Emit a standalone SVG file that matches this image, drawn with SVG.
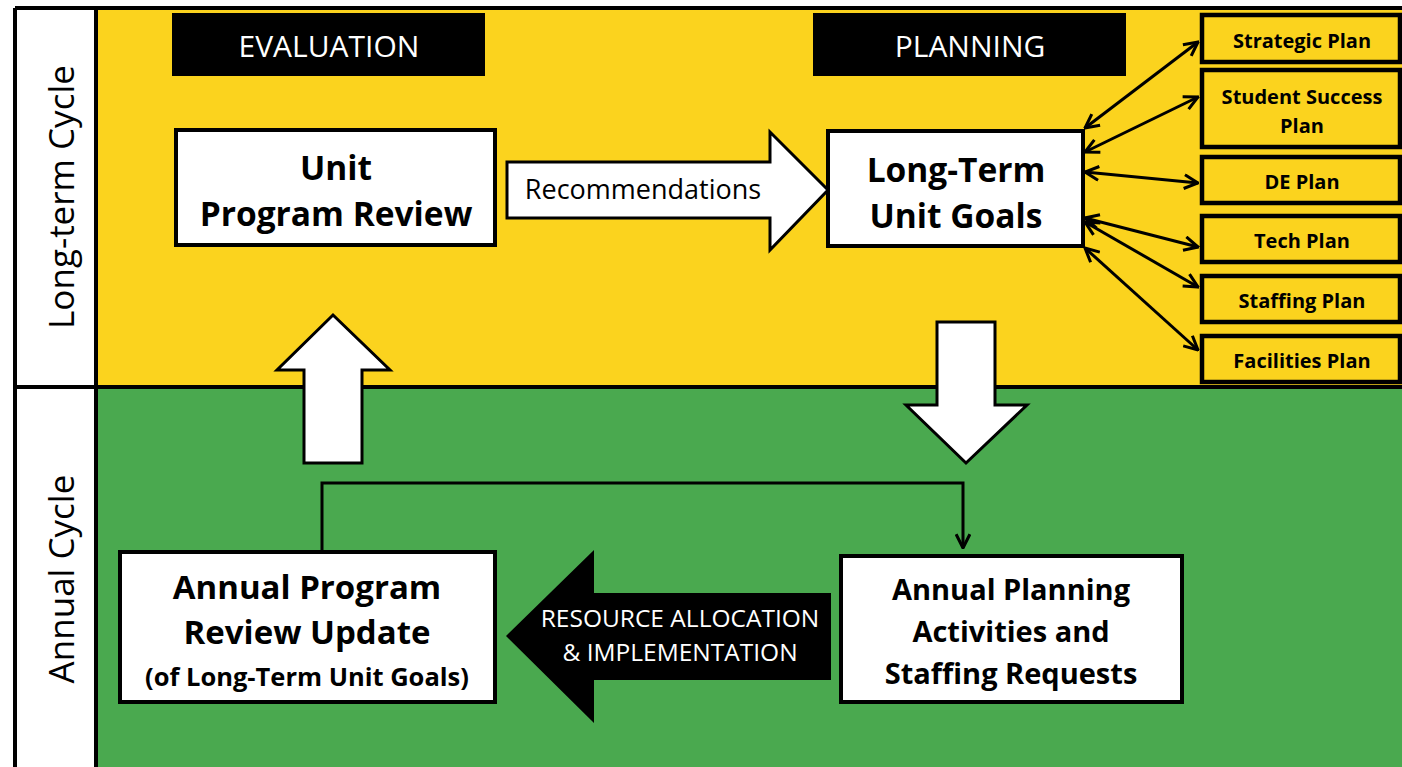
<svg xmlns="http://www.w3.org/2000/svg" width="1402" height="767" viewBox="0 0 1402 767">
<defs>
<style>
.box{fill:#fff;stroke:#000;stroke-width:4}
.plan{fill:#FBD31E;stroke:#000;stroke-width:4.5}
.bt{font-family:"Open Sans","Liberation Sans",sans-serif;font-weight:bold;fill:#000;text-anchor:middle}
.nt{font-family:"Open Sans","Liberation Sans",sans-serif;text-anchor:middle}
.line{stroke:#000;stroke-width:3;fill:none}
.big{stroke:#000;stroke-width:3;fill:#fff;stroke-linejoin:miter}
</style>
<marker id="open" viewBox="0 0 12 12" refX="11" refY="6" markerWidth="5.5" markerHeight="5.5" orient="auto-start-reverse" markerUnits="strokeWidth">
<path d="M1,1 L11,6 L1,11" fill="none" stroke="#000" stroke-width="2.2"/>
</marker>
</defs>
<rect x="0" y="0" width="1402" height="767" fill="#fff"/>
<g id="lanes">
<rect x="96" y="8" width="1306" height="379" fill="#FBD31E"/>
<rect x="96" y="387" width="1306" height="380" fill="#4AA94F"/>
<rect x="15" y="8" width="81" height="759" fill="#fff"/>
<path d="M15,8 H1402 M15,8 V767 M96,8 V767 M13,387 H1402" stroke="#000" stroke-width="4" fill="none"/>
<text class="nt" font-size="35" fill="#000" transform="translate(74,197) rotate(-90)">Long-term Cycle</text>
<text class="nt" font-size="35" fill="#000" transform="translate(74,579) rotate(-90)">Annual Cycle</text>
</g>
<g id="evaluation">
<rect x="172" y="13" width="313" height="63" fill="#000"/>
<text class="nt" x="329" y="57" font-size="30" fill="#fff">EVALUATION</text>
</g>
<g id="planning">
<rect x="813" y="13" width="313" height="63" fill="#000"/>
<text class="nt" x="970" y="57" font-size="30" fill="#fff">PLANNING</text>
</g>
<g id="unit-program-review">
<rect class="box" x="176" y="130" width="319" height="115"/>
<text class="bt" x="336" y="180" font-size="33.5">Unit</text>
<text class="bt" x="336" y="226" font-size="33.5">Program Review</text>
</g>
<g id="long-term-unit-goals">
<rect class="box" x="828" y="131" width="255" height="115"/>
<text class="bt" x="956" y="182" font-size="33.5">Long-Term</text>
<text class="bt" x="956" y="228" font-size="33.5">Unit Goals</text>
</g>
<g id="strategic-plan"><rect class="plan" x="1202" y="15" width="198" height="47"/><text class="bt" x="1302" y="48" font-size="20">Strategic Plan</text></g>
<g id="student-success-plan"><rect class="plan" x="1202" y="70" width="198" height="77"/><text class="bt" x="1302" y="104" font-size="20">Student Success</text><text class="bt" x="1302" y="133" font-size="20">Plan</text></g>
<g id="de-plan"><rect class="plan" x="1202" y="157" width="198" height="46"/><text class="bt" x="1302" y="189" font-size="20">DE Plan</text></g>
<g id="tech-plan"><rect class="plan" x="1202" y="216" width="198" height="46"/><text class="bt" x="1302" y="248" font-size="20">Tech Plan</text></g>
<g id="staffing-plan"><rect class="plan" x="1202" y="276" width="198" height="46"/><text class="bt" x="1302" y="308" font-size="20">Staffing Plan</text></g>
<g id="facilities-plan"><rect class="plan" x="1202" y="336" width="198" height="46"/><text class="bt" x="1302" y="368" font-size="20">Facilities Plan</text></g>
<g id="annual-program-review-update">
<rect class="box" x="120" y="552" width="375" height="150"/>
<text class="bt" x="307" y="599" font-size="33">Annual Program</text>
<text class="bt" x="307" y="644" font-size="33">Review Update</text>
<text class="bt" x="307" y="686" font-size="25.5">(of Long-Term Unit Goals)</text>
</g>
<g id="annual-planning-activities">
<rect class="box" x="841" y="556" width="341" height="146"/>
<text class="bt" x="1011" y="600" font-size="29">Annual Planning</text>
<text class="bt" x="1011" y="642" font-size="29">Activities and</text>
<text class="bt" x="1011" y="684" font-size="29">Staffing Requests</text>
</g>
<g id="connectors">
<path class="big" d="M507,162 H770 V132 L828,190 L770,250 V218 H507 Z"/>
<text class="nt" x="643" y="199" font-size="27" fill="#000">Recommendations</text>
<path class="big" d="M304,463 V370 H277 L333,315 L390,370 H362 V463 Z"/>
<path class="big" d="M937,322 V405 H906 L966,463 L1027,405 H995 V322 Z"/>
<path d="M831,593 H594 V550 L506,636 L594,723 V680 H831 Z" fill="#000"/>
<text class="nt" x="680" y="627" font-size="24.5" fill="#fff">RESOURCE ALLOCATION</text>
<text class="nt" x="680" y="661" font-size="24.5" fill="#fff">&amp; IMPLEMENTATION</text>
<path class="line" d="M322,552 V483 H963 V548" marker-end="url(#open)"/>
<line class="line" x1="1085" y1="128" x2="1198" y2="42" marker-start="url(#open)" marker-end="url(#open)"/>
<line class="line" x1="1085" y1="152" x2="1198" y2="97" marker-start="url(#open)" marker-end="url(#open)"/>
<line class="line" x1="1085" y1="172" x2="1198" y2="183" marker-start="url(#open)" marker-end="url(#open)"/>
<line class="line" x1="1085" y1="218" x2="1198" y2="247" marker-start="url(#open)" marker-end="url(#open)"/>
<line class="line" x1="1085" y1="222" x2="1198" y2="287" marker-start="url(#open)" marker-end="url(#open)"/>
<line class="line" x1="1085" y1="248" x2="1198" y2="350" marker-start="url(#open)" marker-end="url(#open)"/>
</g>
</svg>
